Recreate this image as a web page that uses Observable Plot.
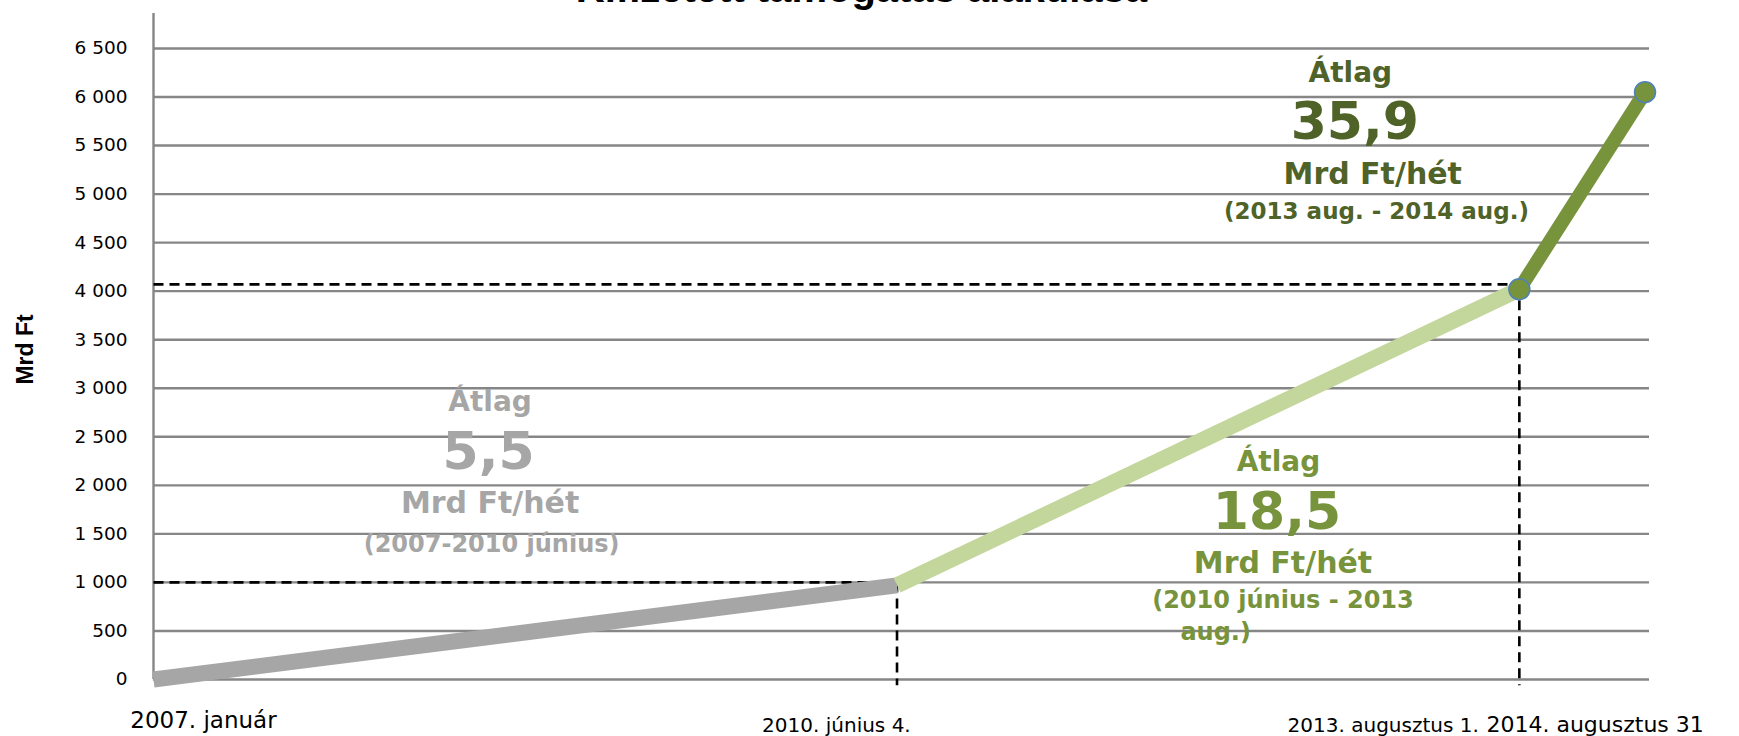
<!DOCTYPE html>
<html>
<head>
<meta charset="utf-8">
<script src="https://cdn.jsdelivr.net/npm/d3@7"></script>
<script src="https://cdn.jsdelivr.net/npm/@observablehq/plot@0.6"></script>
<style>
  html, body { margin: 0; padding: 0; background: #fff; overflow: hidden; }
  #chart { position: relative; width: 1739px; height: 736px; }
</style>
</head>
<body>
<div id="chart"></div>
<script>
// ---- data ----
const title = "Kifizetett támogatás alakulása";
const yLabel = "Mrd Ft";
const dateLabels = ["2007. január", "2010. június 4.", "2013. augusztus 1.", "2014. augusztus 31"];
const xPos = [0, 49.7, 91.3, 99.7];          // position along the (uneven) category axis
const values = [0, 970, 4020, 6050];         // cumulative paid support, Mrd Ft
const refLevels = [1000, 4070];              // dashed guide levels at period breaks
const yTicks = [0, 500, 1000, 1500, 2000, 2500, 3000, 3500, 4000, 4500, 5000, 5500, 6000, 6500];
const periodAverages = ["5,5", "18,5", "35,9"];
const periodRanges = ["(2007-2010 június)", "(2010 június - 2013", "(2013 aug. - 2014 aug.)"];
const avgWord = "Átlag";
const unitText = "Mrd Ft/hét";

// ---- styles ----
const gray = "#A6A6A6", light = "#C3D69B", olive = "#77933C", darkOlive = "#4F6228";
const gridColor = "#868686";
const boldFont = "DejaVu Sans, sans-serif";

const pts = xPos.map((x, i) => ({x, y: values[i]}));
const seg = i => [{x1: pts[i].x, y1: pts[i].y, x2: pts[i + 1].x, y2: pts[i + 1].y}];

const fmt = d => d3.format(",")(d).replace(",", " ");

// annotation blocks
const blocks = [
  {color: gray, lines: [
    {t: avgWord, x: 22.5, y: 2853, s: 28},
    {t: periodAverages[0], x: 22.4, y: 2338, s: 52},
    {t: unitText, x: 22.5, y: 1813, s: 30},
    {t: periodRanges[0], x: 22.6, y: 1391, s: 24}]},
  {color: olive, lines: [
    {t: avgWord, x: 75.2, y: 2235, s: 28},
    {t: periodAverages[1], x: 75.1, y: 1720, s: 52},
    {t: unitText, x: 75.5, y: 1195, s: 30},
    {t: periodRanges[1], x: 75.5, y: 814, s: 24},
    {t: "aug.)", x: 71.0, y: 484, s: 24}]},
  {color: darkOlive, lines: [
    {t: avgWord, x: 80.0, y: 6242, s: 28},
    {t: periodAverages[2], x: 80.3, y: 5737, s: 52},
    {t: unitText, x: 81.5, y: 5202, s: 30},
    {t: periodRanges[2], x: 81.75, y: 4820, s: 23}]}
];

const textMarks = [];
for (const b of blocks) {
  for (const l of b.lines) {
    textMarks.push(Plot.text([l], {
      x: "x", y: "y", text: "t", fill: b.color, fontSize: l.s,
      fontWeight: "bold", fontFamily: boldFont, textAnchor: "middle", lineAnchor: "middle"
    }));
  }
}

const labelX = [3.34, 45.65, 82.2, 89.1];
const labelY = [-420, -470, -470, -470];
const labelSize = [23, 20, 20, 22];
const labelMarks = dateLabels.map((t, i) => Plot.text([t], {
  x: labelX[i], y: labelY[i],
  textAnchor: i === 3 ? "start" : "middle", lineAnchor: "middle",
  fontSize: labelSize[i], fill: "#000"
}));

const chart = Plot.plot({
  width: 1739,
  height: 736,
  marginLeft: 153,
  marginRight: 90,
  marginTop: 13,
  marginBottom: 57,
  style: {fontFamily: "DejaVu Sans, sans-serif", fontSize: "18px", color: "#000", background: "#fff", overflow: "visible"},
  x: {domain: [0, 100], axis: null},
  y: {domain: [0, 6860], axis: null},
  marks: [
    Plot.ruleY(yTicks, {stroke: gridColor, strokeWidth: 2.4}),
    Plot.ruleX([0], {stroke: gridColor, strokeWidth: 2.4}),
    Plot.axisY({ticks: yTicks, tickSize: 0, tickPadding: 26, tickFormat: fmt, label: null, fontSize: 18.5, fill: "#000"}),
    // dashed guides
    Plot.link(refLevels, {x1: 0, x2: (d, i) => xPos[i + 1], y1: d => d, y2: d => d,
      stroke: "#000", strokeWidth: 2.6, strokeDasharray: "10,6"}),
    Plot.link(refLevels, {x1: (d, i) => xPos[i + 1], x2: (d, i) => xPos[i + 1], y1: d => d, y2: -60,
      stroke: "#000", strokeWidth: 2.6, strokeDasharray: "10,6"}),
    // series segments
    Plot.link(seg(0), {x1: "x1", y1: "y1", x2: "x2", y2: "y2", stroke: gray, strokeWidth: 16, strokeLinecap: "butt"}),
    Plot.link(seg(1), {x1: "x1", y1: "y1", x2: "x2", y2: "y2", stroke: light, strokeWidth: 16, strokeLinecap: "butt"}),
    Plot.link(seg(2), {x1: "x1", y1: "y1", x2: "x2", y2: "y2", stroke: olive, strokeWidth: 14, strokeLinecap: "round"}),
    Plot.dot(pts.slice(2), {x: "x", y: "y", r: 10.5, fill: olive, stroke: "#4F81BD", strokeWidth: 1.5}),
    // date labels
    ...labelMarks,
    // y label
    Plot.text([yLabel], {x: -8.56, y: 3400, rotate: -90, fontSize: 23, fontWeight: "bold",
      fontFamily: "Liberation Sans, Arial, sans-serif", fill: "#000", lineAnchor: "middle"}),
    // title (cut off at the top edge as in the original)
    Plot.text([title], {frameAnchor: "top", dx: -40, dy: -12, lineAnchor: "bottom", fontSize: 40,
      fontWeight: "bold", fontFamily: "Liberation Sans, Arial, sans-serif", fill: "#000"}),
    ...textMarks
  ]
});

document.getElementById("chart").appendChild(chart);
</script>
</body>
</html>
